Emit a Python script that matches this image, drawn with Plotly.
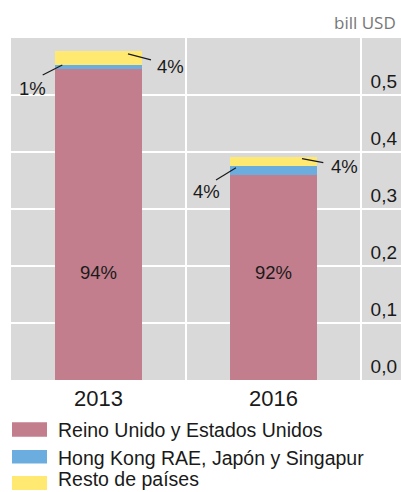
import plotly.graph_objects as go

# ---------------- data ----------------
years = ["2013", "2016"]
series_names = ["Reino Unido y Estados Unidos", "Hong Kong RAE, Japón y Singapur", "Resto de países"]
reino_eeuu = [0.545, 0.359]
hk_jp_sg = [0.008, 0.016]
resto = [0.024, 0.017]
y_tick_vals = [0.0, 0.1, 0.2, 0.3, 0.4, 0.5]
y_tick_text = ["0,0", "0,1", "0,2", "0,3", "0,4", "0,5"]
unit_label = "bill USD"

# ---------------- style ----------------
colors = ["#C27E8D", "#6CADE0", "#FFE970"]
FONT = "Liberation Sans, Arial, sans-serif"
W, H = 401, 492
ML, MR, MT, MB = 11, 0, 38, 112
PW, PH = W - ML - MR, H - MT - MB


def paper_x(px):  # px: screen pixel
    return (px - ML) / PW


def paper_y(py):
    return (H - MB - py) / PH


series = [reino_eeuu, hk_jp_sg, resto]
totals = [sum(s[i] for s in series) for i in range(len(years))]

fig = go.Figure()
for name, vals, col in zip(series_names, series, colors):
    fig.add_trace(go.Bar(
        x=years, y=vals, name=name, marker=dict(color=col, line=dict(width=0)),
        width=0.5, showlegend=False, hoverinfo="skip",
    ))

annotations = []
shapes = []

# inside labels (share of first series)
for i, yr in enumerate(years):
    pct = round(reino_eeuu[i] / totals[i] * 100)
    annotations.append(dict(x=i, y=0.189, xref="x", yref="y", text=f"{pct}%", showarrow=False,
                            font=dict(family=FONT, size=18.5, color="#1a1a1a")))

# leader labels: (series index, year index, line dx0, dy0, dx1, dy1, text dx, text dy)
leaders = [
    (2, 0, 29.5, 4.0, 52.5, -2.0, 71.5, -8.3),
    (1, 0, -36.2, 2.1, -55.8, -7.9, -65.7, -21.9),
    (2, 1, 28.5, 2.7, 49.8, -1.3, 70.7, -4.9),
    (1, 1, -37.5, 3.1, -57.5, -9.2, -67.3, -20.5),
]
for s_idx, i, lx0, ly0, lx1, ly1, tx, ty in leaders:
    base = sum(series[k][i] for k in range(s_idx))
    mid = base + series[s_idx][i] / 2
    pct = round(series[s_idx][i] / totals[i] * 100)
    shapes.append(dict(type="line", xref="x", yref="y", xsizemode="pixel", ysizemode="pixel",
                       xanchor=i, yanchor=mid, x0=lx0, y0=ly0, x1=lx1, y1=ly1,
                       line=dict(color="#1a1a1a", width=1.2)))
    annotations.append(dict(x=i, y=mid, xref="x", yref="y", text=f"{pct}%", showarrow=False,
                            xshift=tx, yshift=ty, xanchor="center", yanchor="middle",
                            font=dict(family=FONT, size=18.5, color="#1a1a1a")))

# unit label
annotations.append(dict(x=paper_x(398), y=paper_y(22), xref="paper", yref="paper", text=unit_label,
                        showarrow=False, xanchor="right", yanchor="middle",
                        font=dict(family="Open Sans, sans-serif", size=17, color="#777777")))

# manual legend
legend_rows = [(422.3, 436.7, 430), (450, 463.5, 457.5), (476, 490, 482)]
for name, col, (top, bot, ty) in zip(series_names, colors, legend_rows):
    shapes.append(dict(type="rect", xref="paper", yref="paper", x0=paper_x(12), x1=paper_x(47),
                       y0=paper_y(bot), y1=paper_y(top), fillcolor=col, line=dict(width=0)))
    annotations.append(dict(x=paper_x(55.5), y=paper_y(ty), xref="paper", yref="paper", text=name,
                            showarrow=False, xanchor="left", yanchor="middle",
                            font=dict(family=FONT, size=19.5, color="#1a1a1a")))
# keep the last legend text box inside the page
annotations[-1].update(y=paper_y(491.5), yanchor="bottom")

fig.update_layout(
    width=W, height=H, margin=dict(l=ML, r=MR, t=MT, b=MB, pad=0),
    paper_bgcolor="white", plot_bgcolor="#D9D9D9",
    barmode="stack", bargap=0.5,
    annotations=annotations, shapes=shapes,
    font=dict(family=FONT, size=18, color="#1a1a1a"),
    showlegend=False,
)
fig.update_xaxes(type="category", range=[-0.5, -0.5 + PW / 175.0], tickson="boundaries",
                 showgrid=True, gridcolor="white", gridwidth=1.5, ticks="", showline=False,
                 zeroline=False, tickfont=dict(family=FONT, size=22, color="#1a1a1a"),
                 ticklabelstandoff=3)
fig.update_yaxes(range=[0, 0.6], tickvals=y_tick_vals, ticktext=y_tick_text, side="right",
                 ticklabelposition="inside top", showgrid=True, gridcolor="white", gridwidth=1.5,
                 zeroline=False, showline=False, ticks="", ticklabelstandoff=1,
                 tickfont=dict(family=FONT, size=19, color="#1a1a1a"))

fig.write_html(
    "out.html",
    config={"displayModeBar": False},
    post_script="document.body.style.margin='0';document.body.style.overflow='hidden';",
)
